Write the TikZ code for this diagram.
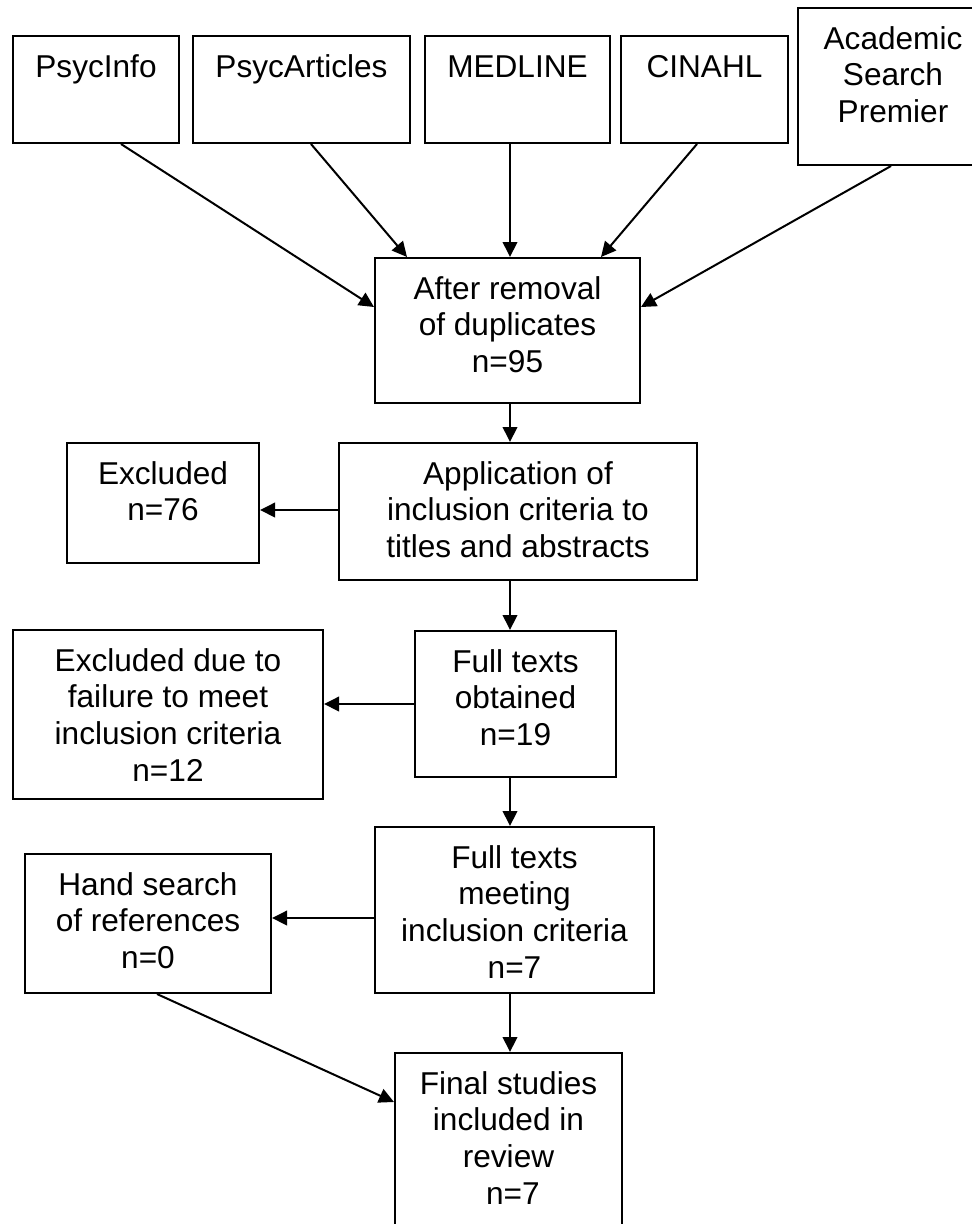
\documentclass[tikz,border=0pt]{standalone}
\usepackage{fontspec}
\setmainfont{Liberation Sans}
\usetikzlibrary{arrows.meta}
\newcommand{\bxtext}[2]{\parbox[t]{#1}{\centering\fontsize{31.6pt}{36.8pt}\selectfont #2}}
\begin{document}
\begin{tikzpicture}[x=1pt,y=-1pt,
  box/.style={draw, line width=2pt, inner sep=0pt, anchor=north west, text height=41pt},
  arr/.style={line width=2pt, -{Triangle[length=15pt,width=14.5pt]}}]
\useasboundingbox (0,0) rectangle (972,1224);
\clip (0,0) rectangle (972,1224);
\fill[white] (0,0) rectangle (972,1224);

% top row
\node[box, text depth=66pt]  (psycinfo) at (12,35)  {\bxtext{166pt}{PsycInfo}};
\node[box, text depth=66pt]  (psycart)  at (192,35) {\bxtext{217pt}{PsycArticles}};
\node[box, text depth=66pt]  (medline)  at (424,35) {\bxtext{185pt}{MEDLINE}};
\node[box, text depth=66pt]  (cinahl)   at (620,35) {\bxtext{167pt}{CINAHL}};
\node[box, text depth=116pt] (academic) at (797,7)  {\bxtext{190pt}{Academic\\Search\\Premier}};

% main flow
\node[box, text depth=104pt] (after) at (374,257) {\bxtext{265pt}{After removal\\of duplicates\\n=95}};
\node[box, text depth=96pt]  (appl)  at (338,442) {\bxtext{358pt}{Application of\\inclusion criteria to\\titles and abstracts}};
\node[box, text depth=79pt]  (excl1) at (66,442)  {\bxtext{192pt}{Excluded\\n=76}};
\node[box, text depth=105pt] (obt)   at (414,630) {\bxtext{201pt}{Full texts\\obtained\\n=19}};
\node[box, text depth=128pt] (excl2) at (12,629)  {\bxtext{310pt}{Excluded due to\\failure to meet\\inclusion criteria\\n=12}};
\node[box, text depth=125pt] (meet)  at (374,826) {\bxtext{279pt}{Full texts\\meeting\\inclusion criteria\\n=7}};
\node[box, text depth=98pt]  (hand)  at (24,853)  {\bxtext{246pt}{Hand search\\of references\\n=0}};
\node[box, text depth=147pt] (final) at (394,1052) {\bxtext{227pt}{Final studies\\included in\\review\\\hspace*{8.8pt}n=7}};

\coordinate (spine) at (510,0);

% arrows from databases
\draw[arr] ([xshift=25pt]psycinfo.south) -- ([yshift=-50pt]after.north west);
\draw[arr] ([xshift=9.5pt]psycart.south) -- ([xshift=33pt]after.north west);
\draw[arr] (spine |- medline.south) -- (spine |- after.north);
\draw[arr] ([xshift=-7.5pt]cinahl.south) -- ([xshift=-40pt]after.north east);
\draw[arr] ([xshift=-2pt]academic.south) -- ([yshift=-50pt]after.north east);

% vertical flow
\draw[arr] (spine |- after.south) -- (spine |- appl.north);
\draw[arr] (spine |- appl.south) -- (spine |- obt.north);
\draw[arr] (spine |- obt.south) -- (spine |- meet.north);
\draw[arr] (spine |- meet.south) -- (spine |- final.north);

% side arrows
\coordinate (ae) at ([yshift=1.5pt]appl.west);
\draw[arr] (ae) -- (ae -| excl1.east);
\draw[arr] (obt.west) -- (obt.west -| excl2.east);
\coordinate (mh) at ([yshift=-8pt]meet.west);
\draw[arr] (mh) -- (mh -| hand.east);
\draw[arr] ([xshift=9pt]hand.south) -- ([yshift=-50pt]final.north west);
\end{tikzpicture}
\end{document}
